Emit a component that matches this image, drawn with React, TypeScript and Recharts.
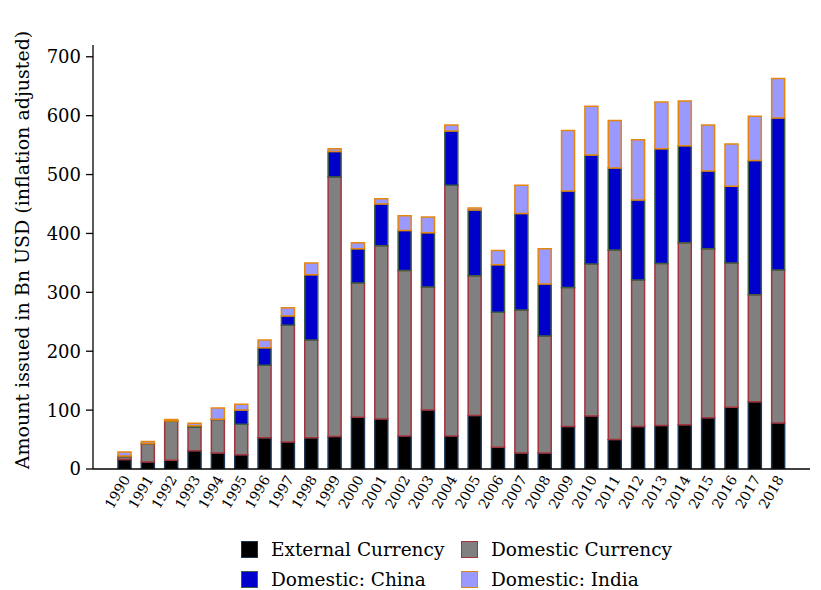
import React from 'react';
import { BarChart, Bar, XAxis, YAxis, Label } from 'recharts';

const years = [
  '1990', '1991', '1992', '1993', '1994', '1995', '1996', '1997', '1998', '1999',
  '2000', '2001', '2002', '2003', '2004', '2005', '2006', '2007', '2008', '2009',
  '2010', '2011', '2012', '2013', '2014', '2015', '2016', '2017', '2018',
];

const externalCurrency = [16, 12, 15, 31, 27, 24, 53, 46, 53, 55, 88, 85, 56, 100, 56, 91, 37, 27, 27, 72, 90, 50, 72, 74, 75, 87, 105, 114, 78];
const domesticCurrency = [5, 31, 66, 40, 57, 52, 123, 198, 166, 441, 228, 294, 281, 209, 426, 237, 229, 243, 199, 236, 258, 322, 249, 275, 309, 287, 245, 182, 260];
const domesticChina = [1, 0.5, 0.5, 2.5, 0.5, 24, 30, 16, 111, 43, 58, 71, 68, 92, 92, 112, 81, 164, 88, 164, 185, 139, 136, 195, 165, 132, 130, 228, 258];
const domesticIndia = [7, 3, 2.5, 4, 19, 10, 13, 14, 20, 5, 10, 9, 25, 27, 10, 3, 24, 48, 60, 103, 83, 81, 102, 79, 76, 78, 72, 75, 67];

const yTicks = [0, 100, 200, 300, 400, 500, 600, 700];

const series = [
  { key: 'external', name: 'External Currency', fill: '#000000', stroke: '#1c3552' },
  { key: 'domestic', name: 'Domestic Currency', fill: '#808080', stroke: '#a3333d' },
  { key: 'china', name: 'Domestic: China', fill: '#0000cc', stroke: '#3f5f3f' },
  { key: 'india', name: 'Domestic: India', fill: '#9999ff', stroke: '#e8860c' },
];

const data = years.map((year, i) => ({
  year,
  external: externalCurrency[i],
  domestic: domesticCurrency[i],
  china: domesticChina[i],
  india: domesticIndia[i],
}));

const FONT = '"DejaVu Serif", serif';

// rotated year labels under the x axis
const XTick = (props: any) => {
  const { x, y, payload } = props;
  return (
    <g transform={`translate(${x + 6},${y + 2}) rotate(-60)`}>
      <text x={0} y={0} textAnchor="end" fontFamily={FONT} fontSize={14} fill="#000">
        {payload.value}
      </text>
    </g>
  );
};

const legendPos = [
  { left: 233, top: 531 },
  { left: 453, top: 531 },
  { left: 233, top: 561 },
  { left: 453, top: 561 },
];

export default function App() {
  return (
    <div style={{ position: 'relative', width: 813, height: 582, background: '#fff' }}>
      <BarChart
        width={813}
        height={515}
        data={data}
        margin={{ top: 37, right: 11, left: 0, bottom: 0 }}
        barSize={13}
      >
        <XAxis
          dataKey="year"
          height={54}
          interval={0}
          tickLine={false}
          axisLine={{ stroke: '#000', strokeWidth: 1.3 }}
          padding={{ left: 20, right: 20 }}
          tick={<XTick />}
        />
        <YAxis
          width={85}
          domain={[0, 720]}
          ticks={yTicks}
          allowDataOverflow
          tickSize={7}
          tickMargin={5}
          tickLine={{ stroke: '#000', strokeWidth: 1.3 }}
          axisLine={{ stroke: '#000', strokeWidth: 1.3 }}
          tick={{ fontFamily: FONT, fontSize: 18, fill: '#000' }}
        >
          <Label
            content={() => (
              <text
                x={14}
                y={242}
                transform="rotate(-90 14 242)"
                textAnchor="middle"
                dominantBaseline="central"
                fontFamily={FONT}
                fontSize={19}
                fill="#000"
              >
                Amount issued in Bn USD (inflation adjusted)
              </text>
            )}
          />
        </YAxis>
        {series.map((s) => (
          <Bar
            key={s.key}
            dataKey={s.key}
            name={s.name}
            stackId="a"
            fill={s.fill}
            stroke={s.stroke}
            strokeWidth={1.5}
            isAnimationActive={false}
          />
        ))}
      </BarChart>
      {series.map((s, i) => (
        <div
          key={s.key}
          style={{
            position: 'absolute',
            left: legendPos[i].left,
            top: legendPos[i].top,
            display: 'flex',
            alignItems: 'center',
            fontFamily: FONT,
            fontSize: 18.5,
            color: '#000',
            whiteSpace: 'nowrap',
          }}
        >
          <span
            style={{
              display: 'inline-block',
              width: 15,
              height: 15,
              background: s.fill,
              border: `1.5px solid ${s.stroke}`,
              marginRight: 13,
            }}
          />
          {s.name}
        </div>
      ))}
    </div>
  );
}
